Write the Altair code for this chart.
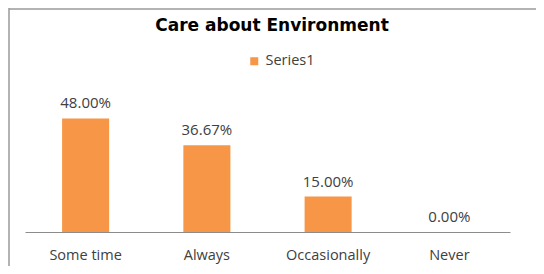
import altair as alt
import pandas as pd

categories = ["Some time", "Always", "Occasionally", "Never"]
values = [0.48, 0.3667, 0.15, 0.0]
labels = ["48.00%", "36.67%", "15.00%", "0.00%"]
series = ["Series1"] * 4

df = pd.DataFrame({"cat": categories, "val": values, "lab": labels, "series": series})

ORANGE = "#F79646"
TXT = "#404040"
FONT = "Open Sans"

x = alt.X("cat:N", sort=categories, title=None,
          scale=alt.Scale(paddingInner=0.612, paddingOuter=0.306),
          axis=alt.Axis(labelAngle=0, ticks=False, domainColor="#8c8c8c",
                        labelFont=FONT, labelFontSize=14.5, labelColor=TXT,
                        labelBaseline="alphabetic", labelPadding=27, grid=False))
y = alt.Y("val:Q", scale=alt.Scale(domain=[0, 0.6]), axis=None)

bars = alt.Chart(df).mark_bar().encode(
    x=x, y=y,
    color=alt.Color("series:N", scale=alt.Scale(range=[ORANGE]),
                    legend=alt.Legend(title=None, orient="none", legendX=222, legendY=-36,
                                      symbolType="square", symbolSize=64,
                                      labelFont=FONT, labelFontSize=14.5, labelColor=TXT,
                                      symbolStrokeWidth=0))
)

text = alt.Chart(df).mark_text(baseline="alphabetic", dy=-10, font=FONT, fontSize=15,
                               color=TXT).encode(x=alt.X("cat:N", sort=categories), y=y, text="lab:N")

title = alt.Chart(pd.DataFrame({"t": ["Care about Environment"]})).mark_text(
    font="DejaVu Sans", fontWeight="bold", fontSize=17, color="#000000", baseline="alphabetic"
).encode(x=alt.value(247), y=alt.value(-59), text="t:N")

border_left = alt.Chart(pd.DataFrame({"a": [0]})).mark_rule(color="#9a9a9a", strokeWidth=1.5).encode(
    x=alt.value(-16), y=alt.value(-82), y2=alt.value(176))
border_top = alt.Chart(pd.DataFrame({"a": [0]})).mark_rule(color="#9a9a9a", strokeWidth=1.5).encode(
    x=alt.value(-16), x2=alt.value(520), y=alt.value(-81))

chart = alt.layer(border_left, border_top, bars, text, title).properties(
    width=485, height=142,
    padding={"left": 17, "top": 82, "right": 26, "bottom": 34},
    autosize=alt.AutoSizeParams(type="none"),
).configure_view(stroke=None)

chart.save("out.html", embed_options={"renderer": "svg", "actions": False})
